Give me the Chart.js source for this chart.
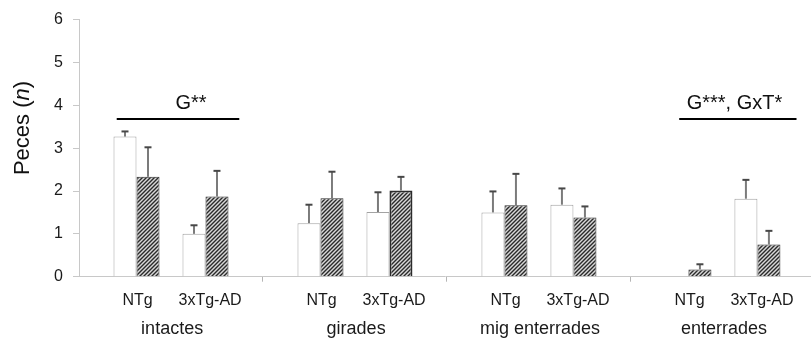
<!DOCTYPE html>
<html>
<head>
<meta charset="utf-8">
<script src="https://cdn.jsdelivr.net/npm/chart.js@4"></script>
<style>
  html, body { margin: 0; padding: 0; background: #fff; overflow: hidden; }
  canvas { display: block; }
</style>
</head>
<body>
<canvas id="c" width="811" height="340"></canvas>
<script>
// Fish counts (mean ± SEM) per position category and genotype.
const groups = ['intactes', 'girades', 'mig enterrades', 'enterrades'];
const genotypes = ['NTg', '3xTg-AD'];
// order: intactes NTg, intactes 3xTg-AD, girades NTg, girades 3xTg-AD, ...
const meanWhite   = [3.27, 1.00, 1.25, 1.51, 1.50, 1.68, 0.00, 1.82];
const semWhite    = [0.12, 0.20, 0.43, 0.46, 0.49, 0.38, 0.00, 0.44];
const meanHatched = [2.33, 1.87, 1.83, 2.01, 1.67, 1.38, 0.17, 0.75];
const semHatched  = [0.69, 0.60, 0.62, 0.32, 0.73, 0.26, 0.12, 0.32];
const yTicks = [0, 1, 2, 3, 4, 5, 6];
const sigLabels = ['G**', 'G***, GxT*'];

// ---- layout of the linear x scale: each position category spans 8 slots ----
const SLOTS = 8;
const barOffsets = [2.5, 5.5];
const labelOffsets = [2.55, 5.7];
const groupLabelOffset = 4.05;
const xMax = 31.83;

const FONT = '"Liberation Sans", Arial, sans-serif';
Chart.defaults.font.family = FONT;

function toPoints(values) {
  return values.map((v, i) => ({
    x: Math.floor(i / 2) * SLOTS + barOffsets[i % 2],
    y: v
  }));
}

function hatchPattern() {
  const s = 4;
  const c = document.createElement('canvas');
  c.width = c.height = s;
  const g = c.getContext('2d');
  g.fillStyle = '#d8d8d8';
  g.fillRect(0, 0, s, s);
  g.strokeStyle = '#2a2a2a';
  g.lineWidth = 1.4;
  g.beginPath();
  g.moveTo(0, s); g.lineTo(s, 0);
  g.moveTo(-1, 1); g.lineTo(1, -1);
  g.moveTo(s - 1, s + 1); g.lineTo(s + 1, s - 1);
  g.stroke();
  return g.createPattern(c, 'repeat');
}

// genotype ticks + group boundary ticks on the label axis
const xTickValues = [];
const xTickTexts = [];
const boundaryValues = [];
groups.forEach((g, gi) => {
  if (gi > 0) { xTickValues.push(gi * SLOTS); xTickTexts.push(''); boundaryValues.push(gi * SLOTS); }
  genotypes.forEach((name, k) => {
    xTickValues.push(gi * SLOTS + labelOffsets[k]);
    xTickTexts.push(name);
  });
});
const groupTickValues = groups.map((g, gi) => gi * SLOTS + groupLabelOffset);

// upward error whiskers with a short cap
const errorBars = {
  id: 'errorBars',
  afterDatasetsDraw(chart) {
    const { ctx } = chart;
    const y = chart.scales.y;
    chart.data.datasets.forEach((ds, i) => {
      const meta = chart.getDatasetMeta(i);
      meta.data.forEach((bar, j) => {
        const sem = ds.sem[j];
        if (!sem) return;
        const top = y.getPixelForValue(ds.data[j].y + sem);
        ctx.save();
        ctx.lineCap = 'butt';
        ctx.strokeStyle = '#7b7b7b';
        ctx.lineWidth = 2;
        ctx.beginPath();
        ctx.moveTo(bar.x, bar.y);
        ctx.lineTo(bar.x, top);
        ctx.stroke();
        ctx.strokeStyle = '#474747';
        ctx.beginPath();
        ctx.moveTo(bar.x - 3.5, top);
        ctx.lineTo(bar.x + 3.5, top);
        ctx.stroke();
        ctx.restore();
      });
    });
  }
};

// significance bars with their labels
const sigBars = {
  id: 'sigBars',
  afterDraw(chart, args, opts) {
    const { ctx } = chart;
    const { x, y } = chart.scales;
    opts.items.forEach(it => {
      const yl = Math.round(y.getPixelForValue(it.lineAt));
      ctx.save();
      ctx.strokeStyle = '#000';
      ctx.lineWidth = 2;
      ctx.beginPath();
      ctx.moveTo(x.getPixelForValue(it.from), yl);
      ctx.lineTo(x.getPixelForValue(it.to), yl);
      ctx.stroke();
      ctx.fillStyle = '#111';
      ctx.font = '20px ' + FONT;
      ctx.textAlign = 'center';
      ctx.textBaseline = 'alphabetic';
      ctx.fillText(it.text, x.getPixelForValue(it.textAt), y.getPixelForValue(it.textBase));
      ctx.restore();
    });
  }
};

// rotated y axis title with italic "n"
const yTitle = {
  id: 'yTitle',
  afterDraw(chart, args, opts) {
    const { ctx } = chart;
    const parts = [
      { t: 'Peces (', f: '22px ' + FONT },
      { t: 'n', f: 'italic 22px ' + FONT },
      { t: ')', f: '22px ' + FONT }
    ];
    let total = 0;
    parts.forEach(p => { ctx.font = p.f; p.w = ctx.measureText(p.t).width; total += p.w; });
    ctx.save();
    ctx.translate(opts.x, opts.y);
    ctx.rotate(-Math.PI / 2);
    ctx.fillStyle = '#111';
    ctx.textBaseline = 'alphabetic';
    ctx.textAlign = 'left';
    let cx = -total / 2;
    parts.forEach(p => { ctx.font = p.f; ctx.fillText(p.t, cx, 0); cx += p.w; });
    ctx.restore();
  }
};

const labelFont = { size: 16 };

new Chart(document.getElementById('c'), {
  type: 'bar',
  data: {
    datasets: [
      {
        label: 'blanc',
        data: toPoints(meanWhite),
        sem: semWhite,
        backgroundColor: '#ffffff',
        borderColor: '#a3a3a3',
        borderWidth: 1,
        xAxisID: 'x', yAxisID: 'y',
        categoryPercentage: 2 / 3,
        barPercentage: 1
      },
      {
        label: 'ratllat',
        data: toPoints(meanHatched),
        sem: semHatched,
        backgroundColor: hatchPattern(),
        borderColor: '#2b2b2b',
        borderWidth: ctx => (ctx.dataIndex === 3 ? 2 : 1),
        xAxisID: 'x', yAxisID: 'y',
        categoryPercentage: 2 / 3,
        barPercentage: 1
      }
    ]
  },
  options: {
    responsive: false,
    animation: false,
    layout: { padding: { top: 15, right: 0, bottom: 0, left: 0 } },
    plugins: {
      legend: { display: false },
      tooltip: { enabled: false },
      sigBars: {
        items: [
          { text: sigLabels[0], from: 1.64, to: 6.97, textAt: 4.87, lineAt: 3.67, textBase: 3.915 },
          { text: sigLabels[1], from: 26.1, to: 31.2, textAt: 28.5, lineAt: 3.67, textBase: 3.915 }
        ]
      },
      yTitle: { x: 29, y: 128 }
    },
    scales: {
      y: {
        min: 0, max: 6,
        afterBuildTicks(s) { s.ticks = yTicks.map(v => ({ value: v })); },
        ticks: { padding: 10, color: '#1a1a1a', font: { size: 16 } },
        grid: { drawOnChartArea: false, tickLength: 6, color: '#c8c8c8' },
        border: { color: '#c8c8c8' },
        afterFit(s) { s.width = 79; }
      },
      // value axis for the bars: baseline only
      x: {
        type: 'linear', position: 'bottom',
        min: 0, max: xMax, offset: false,
        afterBuildTicks(s) { s.ticks = []; },
        ticks: { display: false },
        grid: { display: false, offset: false },
        border: { color: '#c8c8c8' },
        afterFit(s) { s.height = 0; }
      },
      // genotype labels and category separators
      xl: {
        type: 'linear', position: 'bottom',
        min: 0, max: xMax, offset: false,
        afterBuildTicks(s) { s.ticks = xTickValues.map(v => ({ value: v })); },
        ticks: {
          autoSkip: false, maxRotation: 0, minRotation: 0,
          padding: 9, color: '#1a1a1a', font: labelFont,
          callback: (v, i) => xTickTexts[i]
        },
        grid: {
          offset: false, drawOnChartArea: false, tickLength: 5,
          color: c => (c.tick && boundaryValues.includes(c.tick.value)) ? '#b5b5b5' : 'rgba(0,0,0,0)'
        },
        border: { display: false },
        afterFit(s) { s.height = 33; }
      },
      // position category names
      xg: {
        type: 'linear', position: 'bottom',
        min: 0, max: xMax, offset: false,
        afterBuildTicks(s) { s.ticks = groupTickValues.map(v => ({ value: v })); },
        ticks: {
          autoSkip: false, maxRotation: 0, minRotation: 0,
          padding: 1, color: '#1a1a1a', font: { size: 18 },
          callback: (v, i) => groups[i]
        },
        grid: { display: false, offset: false },
        border: { display: false },
        afterFit(s) { s.height = 30.3; }
      }
    }
  },
  plugins: [errorBars, sigBars, yTitle]
});
</script>
</body>
</html>
